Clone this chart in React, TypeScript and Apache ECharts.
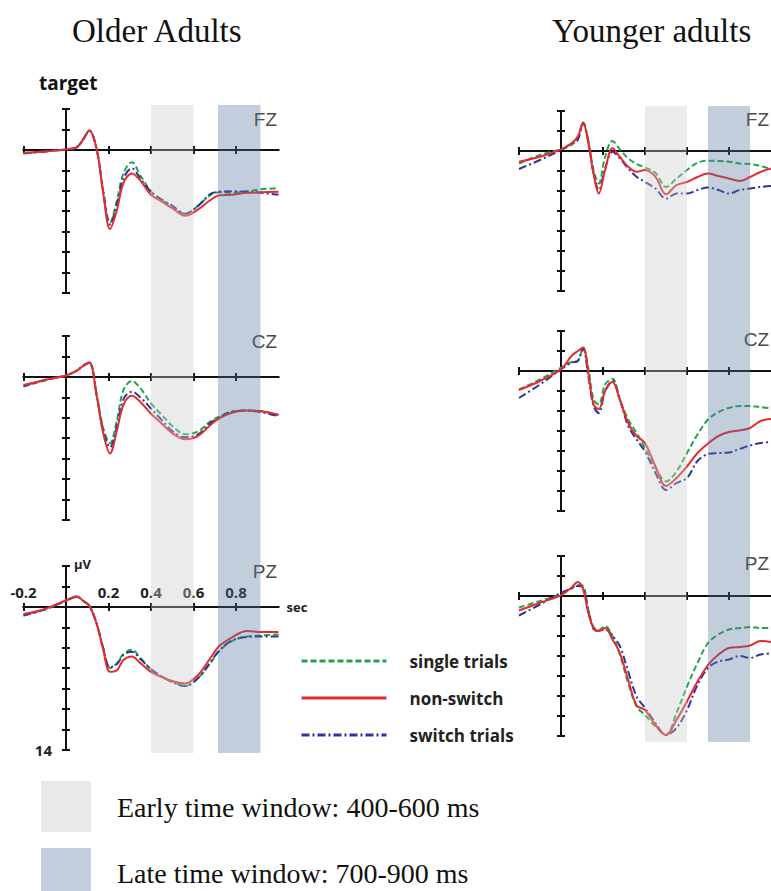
import React, { useEffect, useRef } from 'react';
import * as echarts from 'echarts';

// ---------- data (seconds / microvolts, positive plotted downward) ----------
const timesOld = [-0.2, -0.1, 0, 0.05, 0.08, 0.11, 0.145, 0.175, 0.207, 0.24, 0.27, 0.31, 0.35, 0.4, 0.45, 0.5, 0.56, 0.62, 0.68, 0.72, 0.78, 0.85, 0.92, 1.0];
const timesYoung = [-0.2, -0.1, 0, 0.05, 0.08, 0.105, 0.13, 0.155, 0.18, 0.21, 0.245, 0.28, 0.32, 0.36, 0.4, 0.45, 0.5, 0.55, 0.6, 0.65, 0.7, 0.75, 0.8, 0.85, 0.9, 0.95, 1.0];

const oldFzSingle = [0.3, 0.15, -0.05, -0.25, -1.0, -1.9, 0.0, 4.0, 7.15, 4.9, 2.3, 1.2, 2.5, 4.05, 4.9, 5.5, 6.25, 5.5, 4.4, 4.15, 4.2, 4.05, 3.85, 3.75];
const oldFzNonSwitch = [0.3, 0.15, -0.05, -0.25, -1.0, -1.9, 0.0, 4.2, 7.75, 5.85, 3.25, 2.3, 3.0, 4.4, 5.05, 5.7, 6.45, 5.85, 4.9, 4.45, 4.4, 4.2, 4.15, 4.1];
const oldFzSwitch = [0.35, 0.15, -0.05, -0.25, -1.0, -1.9, 0.0, 4.1, 7.3, 5.3, 2.8, 1.8, 2.8, 4.1, 4.85, 5.45, 6.25, 5.5, 4.3, 4.1, 4.05, 4.1, 4.2, 4.4];

const oldCzSingle = [0.95, 0.35, -0.15, -0.6, -1.05, -1.35, 1.8, 5.0, 6.5, 4.2, 1.3, 0.4, 1.1, 2.6, 3.7, 4.8, 5.6, 5.35, 4.35, 3.9, 3.4, 3.3, 3.35, 3.75];
const oldCzNonSwitch = [0.8, 0.3, -0.15, -0.6, -1.05, -1.4, 1.95, 5.5, 7.5, 5.2, 2.75, 1.85, 2.45, 3.6, 4.55, 5.5, 6.1, 5.8, 4.7, 4.05, 3.5, 3.3, 3.35, 3.7];
const oldCzSwitch = [0.9, 0.3, -0.15, -0.6, -1.1, -1.4, 1.9, 5.2, 6.9, 4.8, 2.2, 1.45, 2.0, 3.1, 4.2, 5.3, 5.9, 5.65, 4.5, 4.0, 3.4, 3.3, 3.45, 3.85];

const oldPzSingle = [0.85, 0.25, -0.6, -1.0, -0.6, -0.1, 1.7, 4.0, 6.0, 5.5, 4.6, 4.2, 5.0, 6.1, 6.8, 7.3, 7.75, 7.0, 5.5, 4.35, 3.35, 2.9, 2.8, 2.7];
const oldPzNonSwitch = [0.7, 0.2, -0.65, -1.05, -0.6, -0.1, 1.7, 4.2, 6.35, 6.2, 5.2, 4.85, 5.5, 6.35, 6.85, 7.25, 7.5, 6.7, 5.0, 3.85, 3.0, 2.35, 2.45, 2.45];
const oldPzSwitch = [0.85, 0.25, -0.6, -1.0, -0.6, -0.1, 1.7, 4.0, 5.9, 5.6, 4.7, 4.4, 5.1, 6.1, 6.8, 7.35, 7.75, 7.0, 5.4, 4.3, 3.3, 2.95, 2.9, 2.9];

const youngFzSingle = [1.25, 0.4, -0.17, -0.6, -1.3, -2.85, -1.0, 1.9, 3.25, 0.57, -1.0, -0.17, 0.74, 1.3, 1.65, 2.2, 3.6, 2.75, 1.9, 1.17, 0.97, 1.0, 1.07, 1.25, 1.3, 1.5, 1.8];
const youngFzNonSwitch = [1.07, 0.57, -0.17, -0.77, -1.44, -2.8, -0.8, 2.25, 4.26, 1.9, -0.27, 0.57, 1.58, 2.08, 1.9, 2.58, 4.33, 3.4, 3.1, 2.6, 2.25, 2.5, 2.75, 3.0, 2.6, 2.1, 1.75];
const youngFzSwitch = [1.8, 0.9, -0.1, -0.77, -1.1, -2.8, -1.0, 2.25, 3.9, 1.75, 0.07, 0.74, 1.75, 2.58, 3.1, 3.75, 4.77, 4.26, 4.26, 3.9, 3.65, 3.9, 4.26, 3.9, 3.75, 3.6, 3.5];

const youngCzSingle = [1.85, 0.85, -0.33, -0.9, -1.0, -2.35, -0.3, 2.85, 3.35, 1.35, 0.77, 2.85, 4.85, 6.2, 7.7, 9.7, 11.05, 10.05, 8.2, 6.35, 4.85, 4.1, 3.7, 3.5, 3.5, 3.6, 3.75];
const youngCzNonSwitch = [1.9, 1.0, -0.17, -1.5, -2.0, -2.35, 0.17, 3.35, 3.8, 2.0, 1.1, 2.85, 5.2, 6.5, 7.2, 9.55, 11.5, 10.7, 9.55, 8.2, 7.25, 6.5, 6.1, 5.95, 5.7, 5.0, 4.8];
const youngCzSwitch = [2.7, 1.35, -0.17, -0.85, -1.0, -2.25, 0.5, 3.5, 4.2, 2.0, 1.0, 2.85, 5.5, 6.85, 8.05, 10.2, 11.9, 11.2, 10.7, 9.0, 8.3, 8.2, 8.15, 7.8, 7.45, 7.2, 7.1];

const youngPzSingle = [1.15, 0.5, -0.17, -0.75, -1.1, -1.0, 1.35, 3.1, 3.4, 3.0, 4.0, 5.85, 8.7, 11.05, 11.9, 13.05, 13.9, 11.7, 9.05, 6.7, 4.7, 3.85, 3.35, 3.2, 3.1, 3.2, 3.2];
const youngPzNonSwitch = [1.45, 0.67, -0.07, -0.85, -1.4, -0.67, 1.67, 3.2, 3.5, 3.2, 4.35, 5.7, 8.4, 10.95, 11.4, 12.9, 13.9, 12.4, 10.55, 8.55, 6.9, 5.85, 5.2, 5.1, 4.95, 4.5, 4.6];
const youngPzSwitch = [1.95, 0.85, -0.33, -0.75, -1.0, -0.85, 1.5, 3.3, 3.5, 3.3, 4.0, 5.0, 7.55, 10.05, 11.2, 12.7, 13.9, 13.2, 11.4, 8.9, 7.2, 6.55, 6.35, 6.0, 6.2, 5.85, 5.75];

const seriesNames = ['single trials', 'non-switch', 'switch trials'];
const electrodes = ['FZ', 'CZ', 'PZ'];
const groupTitles = ['Older Adults', 'Younger adults'];
const xTickValues = [-0.2, 0, 0.2, 0.4, 0.6, 0.8];
const xLabelValues = [-0.2, 0.2, 0.4, 0.6, 0.8];
const yLabelValues = [14];
const windowsOld = [[0.4, 0.6], [0.715, 0.915]];
const windowsYoung = [[0.4, 0.6], [0.7, 0.9]];
const windowLegend = ['Early time window: 400-600 ms', 'Late time window: 700-900 ms'];

const panelData = [
  [[oldFzSingle, oldFzNonSwitch, oldFzSwitch], [oldCzSingle, oldCzNonSwitch, oldCzSwitch], [oldPzSingle, oldPzNonSwitch, oldPzSwitch]],
  [[youngFzSingle, youngFzNonSwitch, youngFzSwitch], [youngCzSingle, youngCzNonSwitch, youngCzSwitch], [youngPzSingle, youngPzNonSwitch, youngPzSwitch]],
];
const columnTimes = [timesOld, timesYoung];
const columnWindows = [windowsOld, windowsYoung];

// ---------- layout / style ----------
const X_MIN = -0.2, X_MAX = 1.0, Y_MIN = -4, Y_MAX = 14;
const COLS = [
  { left: 23.5, width: 255, tops: [109, 336, 566], height: 184, shadeTop: 105, shadeHeight: 648, labelX: 277, labelY: [119, 341.5, 571.5], titleX: 72 },
  { left: 519, width: 252, tops: [111, 331, 556], height: 180, shadeTop: 106, shadeHeight: 636, labelX: 769, labelY: [119.5, 339.5, 563.5], titleX: 552 },
];
const LINE_STYLES = [
  { color: '#1fa64a', width: 2, type: [6, 3] },
  { color: '#e62a2f', width: 2, type: 'solid' },
  { color: '#2e3595', width: 2, type: [8, 3, 2, 3] },
];
const SHADE_COLORS = ['rgba(200,200,200,0.37)', 'rgba(84,115,158,0.35)'];
const AX = '#111';
const LABEL_FONT = { fontFamily: 'Open Sans', fontWeight: 'bold', fontSize: 15, color: '#222' };

function buildOption() {
  const grid: any[] = [];
  const xAxis: any[] = [];
  const yAxis: any[] = [];
  const series: any[] = [];

  for (let c = 0; c < 2; c++) {
    const col = COLS[c];
    for (let p = 0; p < 3; p++) {
      const gi = grid.length;
      grid.push({ left: col.left, top: col.tops[p], width: col.width, height: col.height, outerBoundsMode: 'none', containLabel: false });
      const isLabeled = c === 0 && p === 2;
      const xIdx = xAxis.length;
      const yIdx = yAxis.length;
      for (let k = 0; k < 2; k++) {
        xAxis.push({
          type: 'value', gridIndex: gi, min: X_MIN, max: X_MAX, interval: 0.2, position: 'bottom',
          axisLine: { show: true, onZero: true, lineStyle: { color: AX, width: 2 } },
          axisTick: { show: true, inside: k === 1, length: 4, customValues: xTickValues, lineStyle: { color: AX, width: 2 } },
          axisLabel: { show: false },
          splitLine: { show: false },
          name: isLabeled && k === 0 ? 'sec' : '',
          nameLocation: 'end', nameGap: 8,
          nameTextStyle: { fontFamily: 'Open Sans', fontWeight: 'bold', fontSize: 13, color: '#222', align: 'left', verticalAlign: 'middle' },
        });
        yAxis.push({
          type: 'value', gridIndex: gi, min: Y_MIN, max: Y_MAX, interval: 2, inverse: true, position: 'left',
          axisLine: { show: true, onZero: true, lineStyle: { color: AX, width: 2 } },
          axisTick: { show: true, inside: k === 1, length: 4, lineStyle: { color: AX, width: 2 } },
          axisLabel: { show: false },
          splitLine: { show: false },
          name: isLabeled && k === 0 ? 'µV' : '',
          nameLocation: 'start', nameGap: 2,
          nameTextStyle: { fontFamily: 'Open Sans', fontWeight: 'bold', fontSize: 13, color: '#222', align: 'left', verticalAlign: 'middle', padding: [0, 0, 0, 8] },
        });
      }
      if (isLabeled) {
        // label-only axes, shifted onto the zero lines
        const zeroFromTop = (col.height * (0 - Y_MIN)) / (Y_MAX - Y_MIN);
        const zeroFromLeft = (col.width * (0 - X_MIN)) / (X_MAX - X_MIN);
        xAxis.push({
          type: 'value', gridIndex: gi, min: X_MIN, max: X_MAX, interval: 0.2, position: 'top', offset: -zeroFromTop,
          axisLine: { show: false, onZero: false }, axisTick: { show: false }, splitLine: { show: false },
          axisLabel: {
            show: true, margin: 7, customValues: xLabelValues,
            formatter: (v: number) => (xLabelValues.some((l) => Math.abs(l - v) < 1e-6) ? String(Math.round(v * 10) / 10) : ''),
            ...LABEL_FONT,
          },
        });
        yAxis.push({
          type: 'value', gridIndex: gi, min: Y_MIN, max: Y_MAX, interval: 2, inverse: true, position: 'left', offset: -zeroFromLeft,
          axisLine: { show: false, onZero: false }, axisTick: { show: false }, splitLine: { show: false },
          axisLabel: {
            show: true, margin: 14, customValues: yLabelValues,
            formatter: (v: number) => (yLabelValues.indexOf(v) >= 0 ? String(v) : ''),
            ...LABEL_FONT,
          },
        });
      }
      const times = columnTimes[c];
      panelData[c][p].forEach((vals, s) => {
        series.push({
          type: 'line', name: seriesNames[s], xAxisIndex: xIdx, yAxisIndex: yIdx,
          data: times.map((t, i) => [t, vals[i]]),
          symbol: 'none', smooth: 0.35, z: s === 1 ? 4 : 3,
          lineStyle: LINE_STYLES[s], itemStyle: { color: LINE_STYLES[s].color },
        });
      });
    }
  }

  // shading grids (span the whole column)
  for (let c = 0; c < 2; c++) {
    const col = COLS[c];
    const gi = grid.length;
    grid.push({ left: col.left, top: col.shadeTop, width: col.width, height: col.shadeHeight, outerBoundsMode: 'none', containLabel: false });
    const xIdx = xAxis.length;
    const yIdx = yAxis.length;
    xAxis.push({ type: 'value', gridIndex: gi, min: X_MIN, max: X_MAX, show: false, splitLine: { show: false } });
    yAxis.push({ type: 'value', gridIndex: gi, min: 0, max: 1, show: false, splitLine: { show: false } });
    series.push({
      type: 'custom', xAxisIndex: xIdx, yAxisIndex: yIdx, z: 20, silent: true,
      data: columnWindows[c], encode: { x: [0, 1] },
      renderItem: (params: any, api: any) => {
        const a = api.coord([api.value(0), 1]);
        const b = api.coord([api.value(1), 0]);
        return { type: 'rect', shape: { x: a[0], y: a[1], width: b[0] - a[0], height: b[1] - a[1] }, style: { fill: SHADE_COLORS[params.dataIndex] } };
      },
    });
  }

  const graphic: any[] = [];
  groupTitles.forEach((t, c) => {
    graphic.push({ type: 'text', x: COLS[c].titleX, y: 31, style: { text: t, font: '33px "Liberation Serif"', fill: '#111', textAlign: 'left', textVerticalAlign: 'middle' } });
  });
  graphic.push({ type: 'text', x: 39, y: 83, style: { text: 'target', font: 'bold 19px "Open Sans"', fill: '#111', textAlign: 'left', textVerticalAlign: 'middle' } });
  for (let c = 0; c < 2; c++) {
    electrodes.forEach((e, p) => {
      graphic.push({ type: 'text', x: COLS[c].labelX, y: COLS[c].labelY[p], style: { text: e, font: '19px "Liberation Sans"', fill: '#4a4a4a', textAlign: 'right', textVerticalAlign: 'middle' } });
    });
  }
  graphic.push({ type: 'rect', shape: { x: 41, y: 781, width: 50, height: 51 }, style: { fill: '#e9e9e9' } });
  graphic.push({ type: 'rect', shape: { x: 41, y: 848, width: 50, height: 50 }, style: { fill: '#c4cedc' } });
  graphic.push({ type: 'text', x: 117, y: 807.5, style: { text: windowLegend[0], font: '28px "Liberation Serif"', fill: '#111', textAlign: 'left', textVerticalAlign: 'middle' } });
  graphic.push({ type: 'text', x: 117, y: 873.5, style: { text: windowLegend[1], font: '28px "Liberation Serif"', fill: '#111', textAlign: 'left', textVerticalAlign: 'middle' } });

  return {
    animation: false,
    backgroundColor: '#ffffff',
    grid, xAxis, yAxis, series, graphic,
    legend: {
      orient: 'vertical', left: 295, top: 646,
      itemWidth: 85, itemHeight: 20, itemGap: 17,
      data: seriesNames, selectedMode: false,
      lineStyle: { width: 3 },
      itemStyle: { opacity: 0, borderWidth: 0 },
      textStyle: { fontFamily: 'Open Sans', fontSize: 17, fontWeight: 'bold', color: '#222', lineHeight: 20, padding: [0, 0, 0, 18] },
    },
  };
}

export default function App() {
  const ref = useRef<HTMLDivElement>(null);
  useEffect(() => {
    if (!ref.current) return;
    const chart = echarts.init(ref.current, null, { renderer: 'svg' });
    chart.setOption(buildOption() as any);
    return () => chart.dispose();
  }, []);
  return <div ref={ref} style={{ position: 'absolute', left: 0, top: 0, width: 771, height: 891, background: '#fff' }} />;
}
